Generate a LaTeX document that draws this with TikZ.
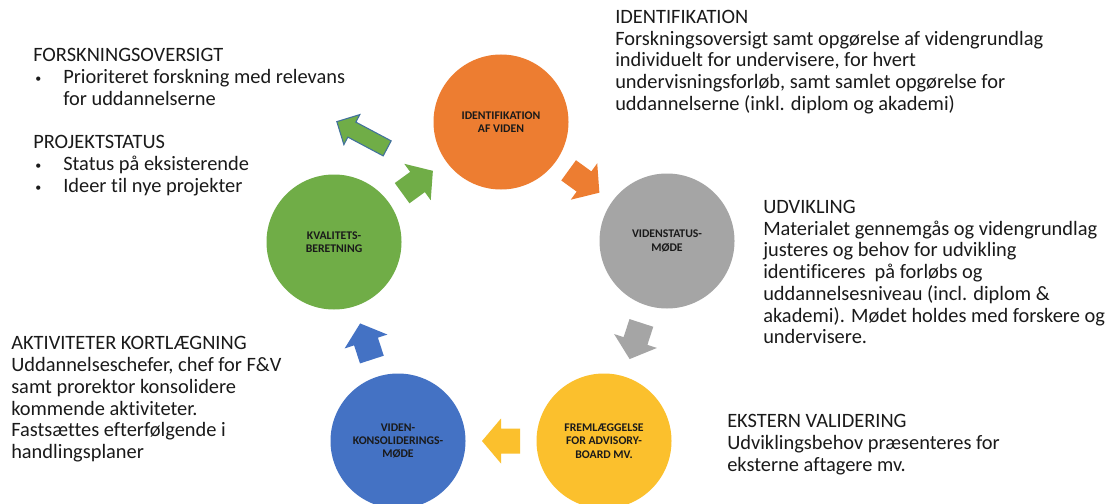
\documentclass[tikz,border=0pt]{standalone}
\usepackage{fontspec}
\setmainfont[Ligatures=NoCommon]{Carlito}
\usetikzlibrary{calc}
\definecolor{cOr}{HTML}{ED7D31}
\definecolor{cGr}{HTML}{70AD47}
\definecolor{cGy}{HTML}{A5A5A5}
\definecolor{cYe}{HTML}{FBC02D}
\definecolor{cBl}{HTML}{4472C4}
\definecolor{cOl}{HTML}{41719C}
\definecolor{cTx}{HTML}{1A1A1A}
% block arrow: center, angle, length, head width, shaft width, head length, style
\newcommand{\blockarr}[7]{%
  \begin{scope}[shift={#1},rotate=#2]
    \path[#7] (-#3/2,-#5/2) -- (#3/2-#6,-#5/2) -- (#3/2-#6,-#4/2) -- (#3/2,0)
      -- (#3/2-#6,#4/2) -- (#3/2-#6,#5/2) -- (-#3/2,#5/2) -- cycle;
  \end{scope}}
\newcommand{\bul}{\makebox[22.5pt][l]{\hspace{1.5pt}\raisebox{0.5pt}{\small•}}}
\begin{document}
\begin{tikzpicture}[x=0.75pt,y=-0.75pt,
  circ/.style={circle, minimum size=101.25pt, inner sep=0pt, align=center,
    font=\fontsize{8.8}{10}\selectfont\bfseries, text=cTx},
  txt/.style={anchor=north west, inner sep=0pt, align=left,
    font=\fontsize{15.3}{16.3}\selectfont, text=cTx}]
\useasboundingbox (0,0) rectangle (1105,503);
\clip (0,0) rectangle (1105,503);
\fill[white] (0,0) rectangle (1105,503);

% circles
\node[circ, fill=cOr] (nI) at (501,122) {IDENTIFIKATION\\AF VIDEN};
\node[circ, fill=cGy] (nV) at (667,241) {VIDENSTATUS-\\MØDE};
\node[circ, fill=cYe] (nF) at (604,441) {FREMLÆGGELSE\\FOR ADVISORY-\\BOARD MV.};
\node[circ, fill=cBl] (nK) at (398,441) {VIDEN-\\KONSOLIDERINGS-\\MØDE};
\node[circ, fill=cGr] (nQ) at (334,242) {KVALITETS-\\BERETNING};

% cycle arrows
\blockarr{($(nI)!.5!(nV)$)}{-36}{38}{45}{25}{19}{fill=cOr}
\blockarr{($(nV)!.5!(nF)$)}{-108}{38}{45}{25}{19}{fill=cGy}
\blockarr{($(nF)!.5!(nK)$)}{180}{38}{45}{25}{19}{fill=cYe}
\blockarr{($(nK)!.5!(nQ)$)}{108}{38}{45}{25}{19}{fill=cBl}
\blockarr{($(nQ)!.5!(nI)$)}{36}{38}{45}{25}{19}{fill=cGr}
% outlined arrow towards the text
\coordinate (gA) at (362,135);
\blockarr{(gA)}{152}{57}{34}{17}{17}{fill=cGr, draw=cOl, line width=0.8pt}

% texts
\node[txt] (tI) at (615,10) {IDENTIFIKATION\\
Forskningsoversigt samt opgørelse af videngrundlag\\
individuelt for undervisere, for hvert\\
undervisningsforløb, samt samlet opgørelse for\\
uddannelserne (inkl. diplom og akademi)};

\node[txt] (tF) at (33,48.4) {FORSKNINGSOVERSIGT\\
\bul Prioriteret forskning med relevans\\
\hspace*{22.5pt}for uddannelserne\\[16.3pt]
PROJEKTSTATUS\\
\bul Status på eksisterende\\
\bul Ideer til nye projekter};

\node[txt] (tU) at (763,200) {UDVIKLING\\
Materialet gennemgås og videngrundlag\\
justeres og behov for udvikling\\
identificeres\ \ på forløbs og\\
uddannelsesniveau (incl. diplom \&\\
akademi). Mødet holdes med forskere og\\
undervisere.};

\node[txt] (tE) at (727,414.4) {EKSTERN VALIDERING\\
Udviklingsbehov præsenteres for\\
eksterne aftagere mv.};

\node[txt] (tA) at (11,336.4) {AKTIVITETER KORTLÆGNING\\
Uddannelseschefer, chef for F\&V\\
samt prorektor konsolidere\\
kommende aktiviteter.\\
Fastsættes efterfølgende i\\
handlingsplaner};
\end{tikzpicture}
\end{document}
